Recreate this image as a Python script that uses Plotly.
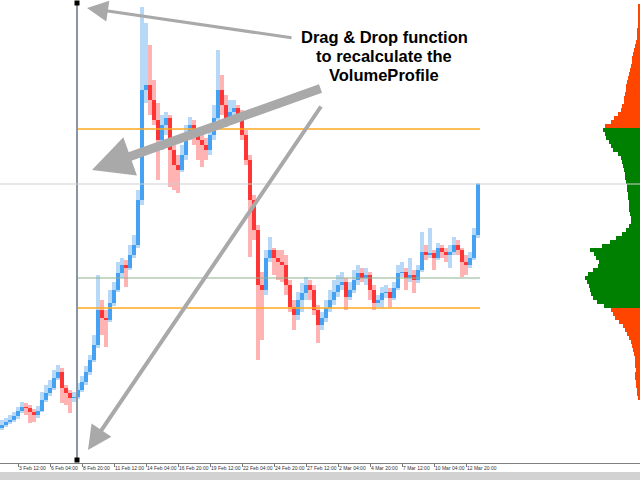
import plotly.graph_objects as go
import numpy as np
import pandas as pd

# 8h bars, centre of first bar
bar_times = pd.date_range("2018-02-02 04:00", periods=120, freq="8h")

opens = [72, 75, 78, 80, 84, 89, 93, 92, 88, 85, 89, 100, 107, 112, 122, 128, 112, 107, 102, 103,
         110, 118, 128, 140, 155, 190, 182, 180, 197, 210, 227, 235, 232, 245, 255, 300, 410, 415, 400, 380,
         360, 375, 382, 350, 335, 330, 345, 365, 375, 368, 360, 355, 350, 365, 382, 410, 395, 380, 388, 392,
         385, 365, 340, 300, 270, 215, 210, 242, 250, 242, 238, 235, 215, 193, 185, 200, 207, 215, 210, 190,
         175, 182, 192, 200, 208, 215, 218, 203, 210, 220, 227, 222, 225, 210, 197, 200, 207, 208, 202, 212,
         227, 228, 222, 225, 220, 230, 248, 245, 247, 242, 252, 248, 245, 248, 255, 250, 238, 235, 242, 265]
highs = [80, 82, 85, 88, 93, 98, 97, 95, 91, 94, 108, 115, 120, 130, 135, 132, 115, 110, 108, 117,
         124, 134, 145, 165, 225, 200, 190, 210, 218, 238, 242, 240, 255, 265, 310, 493, 477, 455, 420, 397,
         385, 388, 385, 355, 345, 355, 375, 383, 380, 372, 365, 362, 375, 395, 450, 425, 405, 400, 400, 395,
         390, 370, 345, 305, 275, 228, 250, 263, 252, 250, 250, 245, 220, 200, 208, 217, 223, 220, 215, 195,
         188, 200, 210, 220, 225, 228, 222, 218, 230, 235, 232, 232, 228, 215, 205, 213, 215, 212, 218, 235,
         238, 232, 242, 230, 235, 268, 255, 272, 250, 257, 255, 252, 255, 263, 260, 252, 245, 248, 272, 317]
lows = [70, 73, 76, 78, 81, 87, 85, 77, 78, 82, 88, 98, 104, 110, 120, 97, 95, 87, 98, 101,
        108, 115, 125, 138, 152, 165, 153, 178, 194, 208, 222, 213, 230, 242, 252, 295, 397, 385, 375, 320,
        350, 365, 313, 310, 307, 328, 340, 360, 355, 340, 333, 340, 345, 360, 380, 385, 373, 375, 383, 378,
        360, 335, 243, 260, 140, 160, 205, 238, 225, 220, 218, 205, 188, 170, 180, 188, 200, 200, 185, 157,
        170, 178, 188, 195, 203, 210, 190, 200, 207, 215, 218, 215, 200, 190, 193, 192, 202, 193, 200, 210,
        223, 210, 218, 207, 217, 228, 240, 242, 230, 240, 242, 238, 232, 245, 245, 223, 225, 232, 240, 262]
closes = [75, 78, 80, 84, 89, 93, 92, 88, 85, 89, 100, 107, 112, 122, 128, 112, 107, 102, 103, 110,
          118, 128, 140, 155, 190, 182, 180, 197, 210, 227, 235, 232, 245, 255, 300, 410, 415, 400, 380, 360,
          375, 382, 350, 335, 330, 345, 365, 375, 368, 360, 355, 350, 365, 382, 410, 395, 380, 388, 392, 385,
          365, 340, 300, 270, 215, 210, 242, 250, 242, 238, 235, 215, 193, 185, 200, 207, 215, 210, 190, 175,
          182, 192, 200, 208, 215, 218, 203, 210, 220, 227, 222, 225, 210, 197, 200, 207, 208, 202, 212, 227,
          228, 222, 225, 220, 230, 248, 245, 247, 242, 252, 248, 245, 248, 255, 250, 238, 235, 242, 265, 316]

# volume profile (price levels from top to bottom, step 4)
vp_levels = list(range(494, 101, -4))
vp_volume = [1.5, 1.8, 2, 2.2, 2.5, 2.4, 3, 3.3, 3.5, 4.2,
             5, 6, 7.5, 8, 8.5, 9, 10, 11.5, 12.5, 13,
             14, 14.5, 15, 16, 16.5, 18, 19, 22, 26, 29,
             35, 37, 35, 34, 31, 29, 27, 22, 19, 18,
             17, 16, 15, 15, 14, 13.5, 13, 12.5, 12, 11.5,
             11, 11.5, 10.5, 9.5, 9, 11, 14, 18, 24, 30,
             38, 50, 46, 44, 41, 42, 47, 52, 55, 53,
             51, 50, 49, 47, 43, 36, 29, 27, 25, 21,
             17, 15, 13, 11, 9.5, 8, 7, 6, 5.5, 5,
             5, 4.5, 5, 5, 4, 4.5, 3.5, 3, 2.5]
va_high = 371
va_low = 192
poc_price = 222

anchor_time = "2018-02-08 10:00"   # drag line
anchor_top = 497
anchor_bottom = 40
data_end = "2018-03-14 00:00"
x_range = ["2018-02-02 00:00", "2018-03-27 08:00"]
tick_times = pd.date_range("2018-02-03 12:00", "2018-03-12 20:00", freq="64h")

note_lines = ["Drag & Drop function", "to recalculate the", "VolumeProfile"]

o = np.array(opens, float)
h = np.array(highs, float)
l = np.array(lows, float)
c = np.array(closes, float)
up = c >= o
bar_ms = 8 * 3600 * 1000

fig = go.Figure()
fig.add_trace(go.Bar(x=bar_times, y=h - l, base=l, width=bar_ms,
                     marker=dict(color=np.where(up, "#b7d9f7", "#ffb3b3").tolist(), line_width=0)))
fig.add_trace(go.Bar(x=bar_times, y=np.maximum(np.abs(c - o), 1), base=np.minimum(o, c), width=bar_ms,
                     marker=dict(color=np.where(up, "#45a2f2", "#ff3535").tolist(), line_width=0)))

vp_colors = ["#008000" if va_low <= p <= va_high else "#ff4500" for p in vp_levels]
fig.add_trace(go.Bar(y=vp_levels, x=vp_volume, orientation="h", width=4, xaxis="x2",
                     marker=dict(color=vp_colors, line_width=0)))

# value area / poc lines
for lvl, col, w in [(va_high, "#ffa91f", 1.5), (va_low, "#ffa91f", 1.5), (poc_price, "#8fb08f", 1)]:
    fig.add_trace(go.Scatter(x=[anchor_time, data_end], y=[lvl, lvl], mode="lines",
                             line=dict(color=col, width=w)))

# drag line with handles
fig.add_trace(go.Scatter(x=[anchor_time, anchor_time], y=[anchor_top, anchor_bottom], mode="lines+markers",
                         line=dict(color="#8896a4", width=2), cliponaxis=False,
                         marker=dict(symbol="square", size=5, color="black")))

# current price line
fig.add_shape(type="line", xref="paper", x0=0, x1=1, y0=closes[-1], y1=closes[-1],
              line=dict(color="#cfcfcf", width=1))

# scrollbar strip
fig.add_shape(type="rect", xref="paper", yref="paper", x0=0, x1=1, y0=-17 / 463, y1=-9 / 463,
              fillcolor="#d2d2d2", line_width=0)


def px(x):
    return x / 640


def py(y):
    return 1 - y / 463


arrows = [((87, 8), (293, 38), 3, 1.4),
          ((92, 170), (322, 88), 9, 0.9),
          ((88, 450), (322, 105), 4, 1.2)]
for (tx, ty), (sx, sy), aw, asz in arrows:
    fig.add_annotation(x=px(tx), y=py(ty), xref="paper", yref="paper", ax=sx - tx, ay=sy - ty,
                       text="", showarrow=True, arrowhead=2, arrowwidth=aw, arrowsize=asz,
                       arrowcolor="#a9a9a9")

for k, line in enumerate(note_lines):
    fig.add_annotation(x=px(384), y=py(37 + 19 * k), xref="paper", yref="paper", showarrow=False,
                       xanchor="center", yanchor="middle", text="<b>" + line + "</b>",
                       font=dict(family="Liberation Sans", size=16.5, color="black"))

fig.update_layout(
    width=640, height=480,
    margin=dict(l=0, r=0, t=0, b=17),
    plot_bgcolor="white", paper_bgcolor="white",
    showlegend=False, barmode="overlay", bargap=0,
    xaxis=dict(type="date", range=x_range, tickmode="array", tickvals=tick_times,
               tickformat="%-d %b %H:%M", ticks="outside", ticklen=3, tickcolor="#777777", tickangle=0,
               ticklabelposition="outside right", tickfont=dict(family="Liberation Sans", size=5, color="#333333"),
               showline=True, linecolor="#808080", linewidth=1, showgrid=False, zeroline=False),
    xaxis2=dict(overlaying="x", range=[640, 0], visible=False),
    yaxis=dict(range=[37, 500], visible=False, showgrid=False, zeroline=False),
)

# page body has a default margin; drop it so the figure sits at the window corner
fig.write_html("out.html", config={"displayModeBar": False},
               post_script="document.body.style.margin='0px';document.body.style.overflow='hidden';")
